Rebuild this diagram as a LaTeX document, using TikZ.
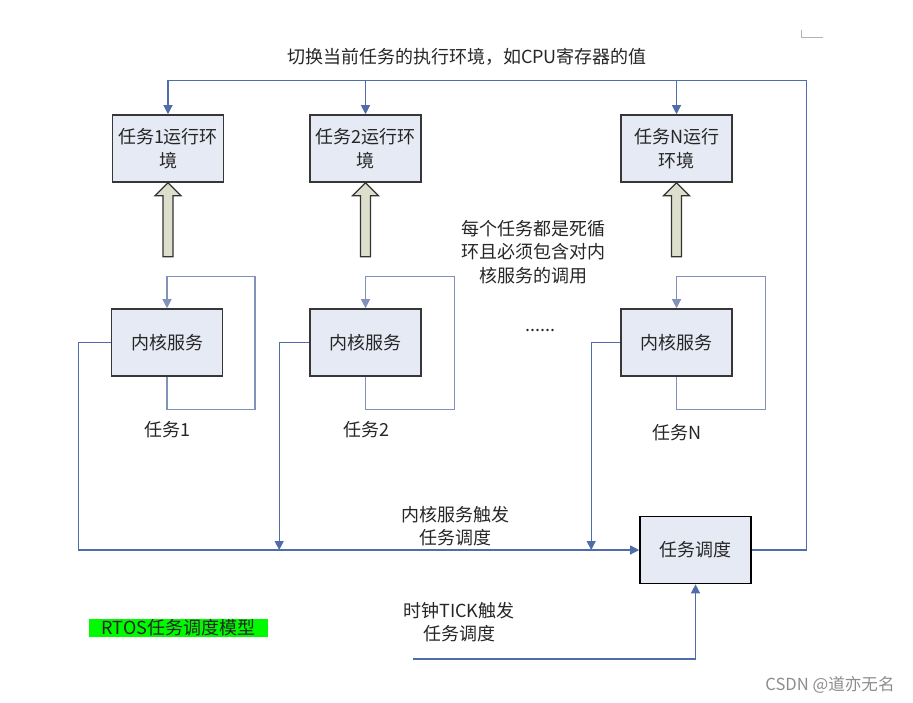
\documentclass[tikz,border=0pt]{standalone}
\usepackage{fontspec}
\setmainfont{Noto Sans CJK SC}
\newfontfamily\wmfont{Noto Sans CJK SC}
\usepackage{tikz}
\usetikzlibrary{arrows.meta}
\definecolor{linecol}{RGB}{79,109,170}
\definecolor{loopcol}{RGB}{128,146,188}
\definecolor{boxfill}{RGB}{230,234,245}
\definecolor{boxdraw}{RGB}{55,55,55}
\definecolor{arrowfill}{RGB}{221,223,204}
\definecolor{tagcol}{RGB}{0,250,0}
\begin{document}
\begin{tikzpicture}[x=0.5pt,y=-0.5pt,
    font=\fontsize{9}{11.8}\selectfont, text=black!85,
    >={Triangle[width=4.5pt,length=4.5pt]},
    envbox/.style={draw=boxdraw, line width=0.8pt, fill=boxfill, minimum width=55.5pt,
                   minimum height=33.5pt, align=center, inner sep=1pt},
    svcbox/.style={envbox},
    schedbox/.style={envbox, draw=black},
    mainline/.style={draw=linecol, line width=0.6pt},
    loopline/.style={draw=loopcol, line width=0.6pt},
    bigarrow/.style={draw=black!80, line width=0.6pt, fill=arrowfill}]
  \useasboundingbox (0,0) rectangle (913,702);

  \node (title) at (467,57) {切换当前任务的执行环境，如CPU寄存器的值};

  \node (env1) [envbox] at (168,148.5)   {任务1运行环\\境};
  \node (env2) [envbox] at (365.5,148.5) {任务2运行环\\境};
  \node (envN) [envbox] at (676.5,148.5) {任务N运行\\环境};

  \node (svc1) [svcbox] at (167,342.5)   {内核服务};
  \node (svc2) [svcbox] at (365.5,342.5) {内核服务};
  \node (svcN) [svcbox] at (676.5,342.5) {内核服务};

  \node (task1) at (167,430) {任务1};
  \node (task2) at (366,430) {任务2};
  \node (taskN) at (677,433) {任务N};

  \node (note) [align=center] at (533,252) {每个任务都是死循\\环且必须包含对内\\核服务的调用};
  \node (dots) at (540,330) {......};

  \node (sched) [schedbox] at (695.5,550) {任务调度};
  \node (svctrig)  [align=center] at (455,526) {内核服务触发\\任务调度};
  \node (ticktrig) [align=center] at (459,622) {时钟TICK触发\\任务调度};
  \node (tag) [fill=tagcol, minimum width=89.5pt, minimum height=9pt, inner sep=0pt] at (178.5,628) {RTOS任务调度模型};
  \node (mark) [text=black!45, font=\wmfont\fontsize{8.3}{10}\selectfont] at (830,685) {CSDN @道亦无名};
  \coordinate (tick) at (413,659);

  \foreach \n in {env1,env2,envN}
    \draw[bigarrow, shift={(\n.south)}] (0,0) -- (-13,13) -- (-5,13) -- (-5,74)
      -- (5,74) -- (5,13) -- (13,13) -- cycle;

  \foreach \n/\w in {svc1/88,svc2/89,svcN/89}
    \draw[loopline, ->] (\n.south) -- ++(0,33) -- ++(\w,0) -- ++(0,-133) -- ++(-\w,0) -- (\n.north);

  \draw[mainline, ->] (svc1.west) -- ++(-32,0) |- (sched.west);
  \draw[mainline, ->] (svc2.west) -- ++(-30,0) coordinate (k2) -- (k2 |- sched.west);
  \draw[mainline, ->] (svcN.west) -- ++(-29,0) coordinate (kN) -- (kN |- sched.west);

  \draw[mainline, ->] (sched.east) -- ++(55,0) |- ([yshift=17pt]env1.north) -- (env1.north);
  \draw[mainline, ->] ([yshift=17pt]env2.north) -- (env2.north);
  \draw[mainline, ->] ([yshift=17pt]envN.north) -- (envN.north);

  \draw[mainline, ->] (tick) -| (sched.south);

  \draw[black!30, line width=0.5pt] (801,30) -- (801,37) -- (823,37);
\end{tikzpicture}
\end{document}
